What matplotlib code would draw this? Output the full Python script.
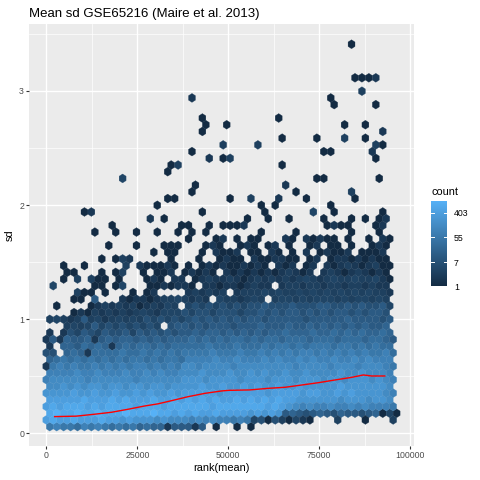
import numpy as np
import matplotlib
matplotlib.use("Agg")
import matplotlib.pyplot as plt
from matplotlib.colors import LinearSegmentedColormap, LogNorm
from matplotlib.ticker import NullLocator

plt.rcParams['font.family'] = ['Liberation Sans', 'DejaVu Sans']

# ===============================
# DATA
# ===============================
# one string per hex row, top row (sd ~3.41) first, bottom row (sd ~0.06) last.
# one char per hex: '.' = empty, else 2*ln(count) as a hex digit (0..e)
HEX_ROWS = [
    "..........|..........|..........|..........|....0.....|.",
    "..........|..........|..........|..........|..........|.",
    "..........|..........|..........|..........|..........|.",
    "..........|..........|..........|..........|..........|.",
    "..........|..........|..........|..........|..........|.",
    "..........|..........|..........|..........|....0001..|.",
    "..........|..........|..........|..........|..........|.",
    "..........|..........|..........|..........|.....2....|.",
    "..........|..........|.1........|..........|.0........|.",
    "..........|..........|..........|..........|.0.....0..|.",
    "..........|..........|..........|..........|..........|.",
    "..........|..........|..0.......|...0......|..........|.",
    "..........|..........|...0..0...|..........|...0..0...|.",
    "..........|..........|..0.......|..........|........1.|.",
    "..........|..........|..........|....0....0|...2..0...|.",
    "..........|..........|.....2....|2.........|.......20.|.",
    "..........|..........|.0........|..........|00.....1..|.",
    "..........|..........|...1.02...|..........|.......0..|.",
    "..........|........02|..........|....0.....|..........|.",
    "..........|.......0..|..........|..........|..........|.",
    "..........|.3........|..........|.........0|0.......0.|.",
    "..........|..........|.0........|....1.....|..........|.",
    "..........|..........|.0........|......0...|....2.....|.",
    "..........|.......00.|......0..2|...1...0..|....0.....|.",
    "..........|......0...|..........|.0.0......|.0........|.",
    ".....01...|..........|..0.......|.0......3.|.0......0.|.",
    "..........|.....1.0..|.........0|..0..0....|0...0.0.01|.",
    ".........0|.........0|0..0.0001.|..........|0100...01.|.",
    ".......0..|0..0..0..0|.0.0......|.0....0...|....0...0.|.",
    "..........|..........|0...01.0.0|0...10.101|00.0..0.10|.",
    ".........0|...0...000|...010..01|0.01.0..01|.00.0..010|.",
    "..........|.....0.00.|..0.1001.0|0.10.0.1.0|1001.0001.|.",
    "........0.|021.....0.|..0..0100.|1001100.01|.011010100|.",
    "..0..0....|.2.100010.|0.01010010|10.101.01.|1012101200|.",
    "...00...0.|02..0.001.|01010.1010|101012101.|1210121010|.",
    "..0.2.200.|0...010.11|.012112101|2121212321|2322322310|.",
    ".3.....00.|03...00101|10.1101101|211.122122|1221221211|.",
    "....200.0.|..0.01....|121212.122|2323223232|3232323221|.",
    "....00.5..|.101101223|2121.32212|32.2332323|3323233232|.",
    ".0....0121|212012132.|3434343434|4544454445|5445454453|.",
    "....010212|1212321333|4344344434|4545455454|5455454554|.",
    "2321252312|3232434343|4545454545|5455555455|5556555545|.",
    "...2323534|3434343.45|5454555455|5655565565|6565656556|.",
    "1.14354354|4535454545|5656656565|6566766676|6767676676|.",
    "1516556156|5665656566|6767676776|7677677767|7767776776|5",
    "1.66576761|6767767677|7778777877|7878878788|8788787877|.",
    "44.6761777|7877878787|8888988898|8989898998|9898989889|7",
    "6787878787|8788787887|9999a99a99|9a9a99a9a9|9a99a9a999|.",
    "1898988989|8989989898|aa9aaaa9aa|aaaaaa9aaa|a9aaa9aaa9|8",
    "9999a99a99|9a99a9a99a|aabaaabaab|abaabaabaa|aabaabaaa9|.",
    "9aaaaa9aaa|aaa9aaaaaa|bbbabbbbab|bbabbbabbb|abbabbbaba|9",
    "aabababbab|babbabbabb|bbcbbcbbcb|cbbcbbcbbb|bbcbbbbbba|.",
    "bbbbcbbcbb|cbbcbcbbcb|cccccbcccc|ccbccccbcc|bbcbcbbbba|9",
    "cccccdcccd|cdcccdccdc|dcdcdccdcd|cdcdccbbbb|bbabbbabba|.",
    "cdcdddcdcd|dddcdddcdd|ddddcddddd|ddcdcba9a9|9a99a9a999|8",
    "deddeddedd|dedddeddcd|cdccdccccb|cbcb565456|5465545603|0",
    "cdccdcccdc|cbcbbbabaa|a9a9a99898|340420310.|..2...0...|2",
    "8988798987|8786766155|515.0..0.0|..........|..........|.",
]

# running median line (red)
LINE_RANK = [2300, 8200, 13300, 17900, 22400, 27000, 30700, 34450, 39000, 43600,
             48200, 50000, 56000, 61000, 65600, 70200, 74700, 79300, 83900, 87100,
             89400, 93000]
LINE_SD = [0.146, 0.150, 0.167, 0.184, 0.210, 0.239, 0.258, 0.286, 0.321, 0.350,
           0.371, 0.376, 0.380, 0.394, 0.403, 0.423, 0.443, 0.467, 0.490, 0.511,
           0.502, 0.502]

LEGEND_BREAKS = [1, 7, 55, 403]

# hex lattice geometry (50 bins in x and y, as geom_hex)
X_STEP = 1906
Y0 = 0.058
Y_STEP = 0.0588

# ===============================
# DECODE HEX CELLS
# ===============================
n_rows = len(HEX_ROWS)
xs, ys, cs = [], [], []
for i, row in enumerate(HEX_ROWS):
    row = row.replace('|', '')
    assert len(row) == 51, (i, len(row))
    r = n_rows - 1 - i
    shift = 0.5 if r % 2 == 0 else 0.0
    for k, ch in enumerate(row):
        if ch == '.':
            continue
        xs.append((k + shift) * X_STEP)
        ys.append(Y0 + r * Y_STEP)
        cs.append(round(np.exp(int(ch, 16) / 2)))

# ===============================
# PLOT
# ===============================
W = H = 480
fig = plt.figure(figsize=(4.8, 4.8), dpi=100)
ax = fig.add_axes([29 / W, 1 - 445.7 / H, (414 - 29) / W, (445.7 - 24) / H])

cmap = LinearSegmentedColormap.from_list('gg', ['#132B43', '#56B1F7'])
n_x = 51
n_y = (n_rows + 1) // 2
hb = ax.hexbin(
    xs, ys, C=cs, reduce_C_function=np.sum,
    gridsize=(n_x, n_y),
    extent=(-X_STEP / 2, -X_STEP / 2 + n_x * X_STEP, Y0, Y0 + n_y * 2 * Y_STEP),
    cmap=cmap, norm=LogNorm(vmin=1, vmax=max(cs)),
    edgecolors='face', linewidths=0.2, zorder=2
)

ax.plot(LINE_RANK, LINE_SD, color='red', lw=1.0, zorder=3)

ax.set_facecolor('#EBEBEB')
ax.set_axisbelow(True)
ax.set_xlim(-4753, 101027)
ax.set_ylim(-0.109, 3.587)
ax.set_xticks([0, 25000, 50000, 75000, 100000])
ax.set_xticks([12500, 37500, 62500, 87500], minor=True)
ax.set_yticks([0, 1, 2, 3])
ax.set_yticks([0.5, 1.5, 2.5, 3.5], minor=True)
ax.set_xticklabels(['0', '25000', '50000', '75000', '100000'])
ax.grid(which='major', color='white', lw=1.0)
ax.grid(which='minor', color='white', lw=0.5)
for s in ax.spines.values():
    s.set_visible(False)
ax.tick_params(which='major', length=2.0, width=0.8, color='#333333',
               labelsize=6.3, labelcolor='#4D4D4D', pad=1.6)
ax.tick_params(which='minor', length=0)
ax.set_xlabel('rank(mean)', fontsize=7.9, labelpad=2.5)
ax.set_ylabel('sd', fontsize=7.9, labelpad=3)

fig.text(29 / W, 1 - 17.3 / H, 'Mean sd GSE65216 (Maire et al. 2013)',
         fontsize=9.5, va='baseline', ha='left')

# colourbar legend
cax = fig.add_axes([430.7 / W, 1 - 286 / H, 16.6 / W, 85.3 / H])
cb = fig.colorbar(hb, cax=cax)
cb.outline.set_visible(False)
cax.yaxis.set_minor_locator(NullLocator())
cb.set_ticks(LEGEND_BREAKS)
cb.set_ticklabels([str(b) for b in LEGEND_BREAKS])
cax.tick_params(length=0, labelsize=6.3, pad=4.8)
for b in LEGEND_BREAKS:
    cax.plot([0, 0.2], [b, b], transform=cax.get_yaxis_transform(), color='white', lw=0.7)
    cax.plot([0.8, 1], [b, b], transform=cax.get_yaxis_transform(), color='white', lw=0.7)
fig.text(431.7 / W, 1 - 191.7 / H, 'count', fontsize=7.9, va='center', ha='left')

fig.savefig('out.png', dpi=100)
